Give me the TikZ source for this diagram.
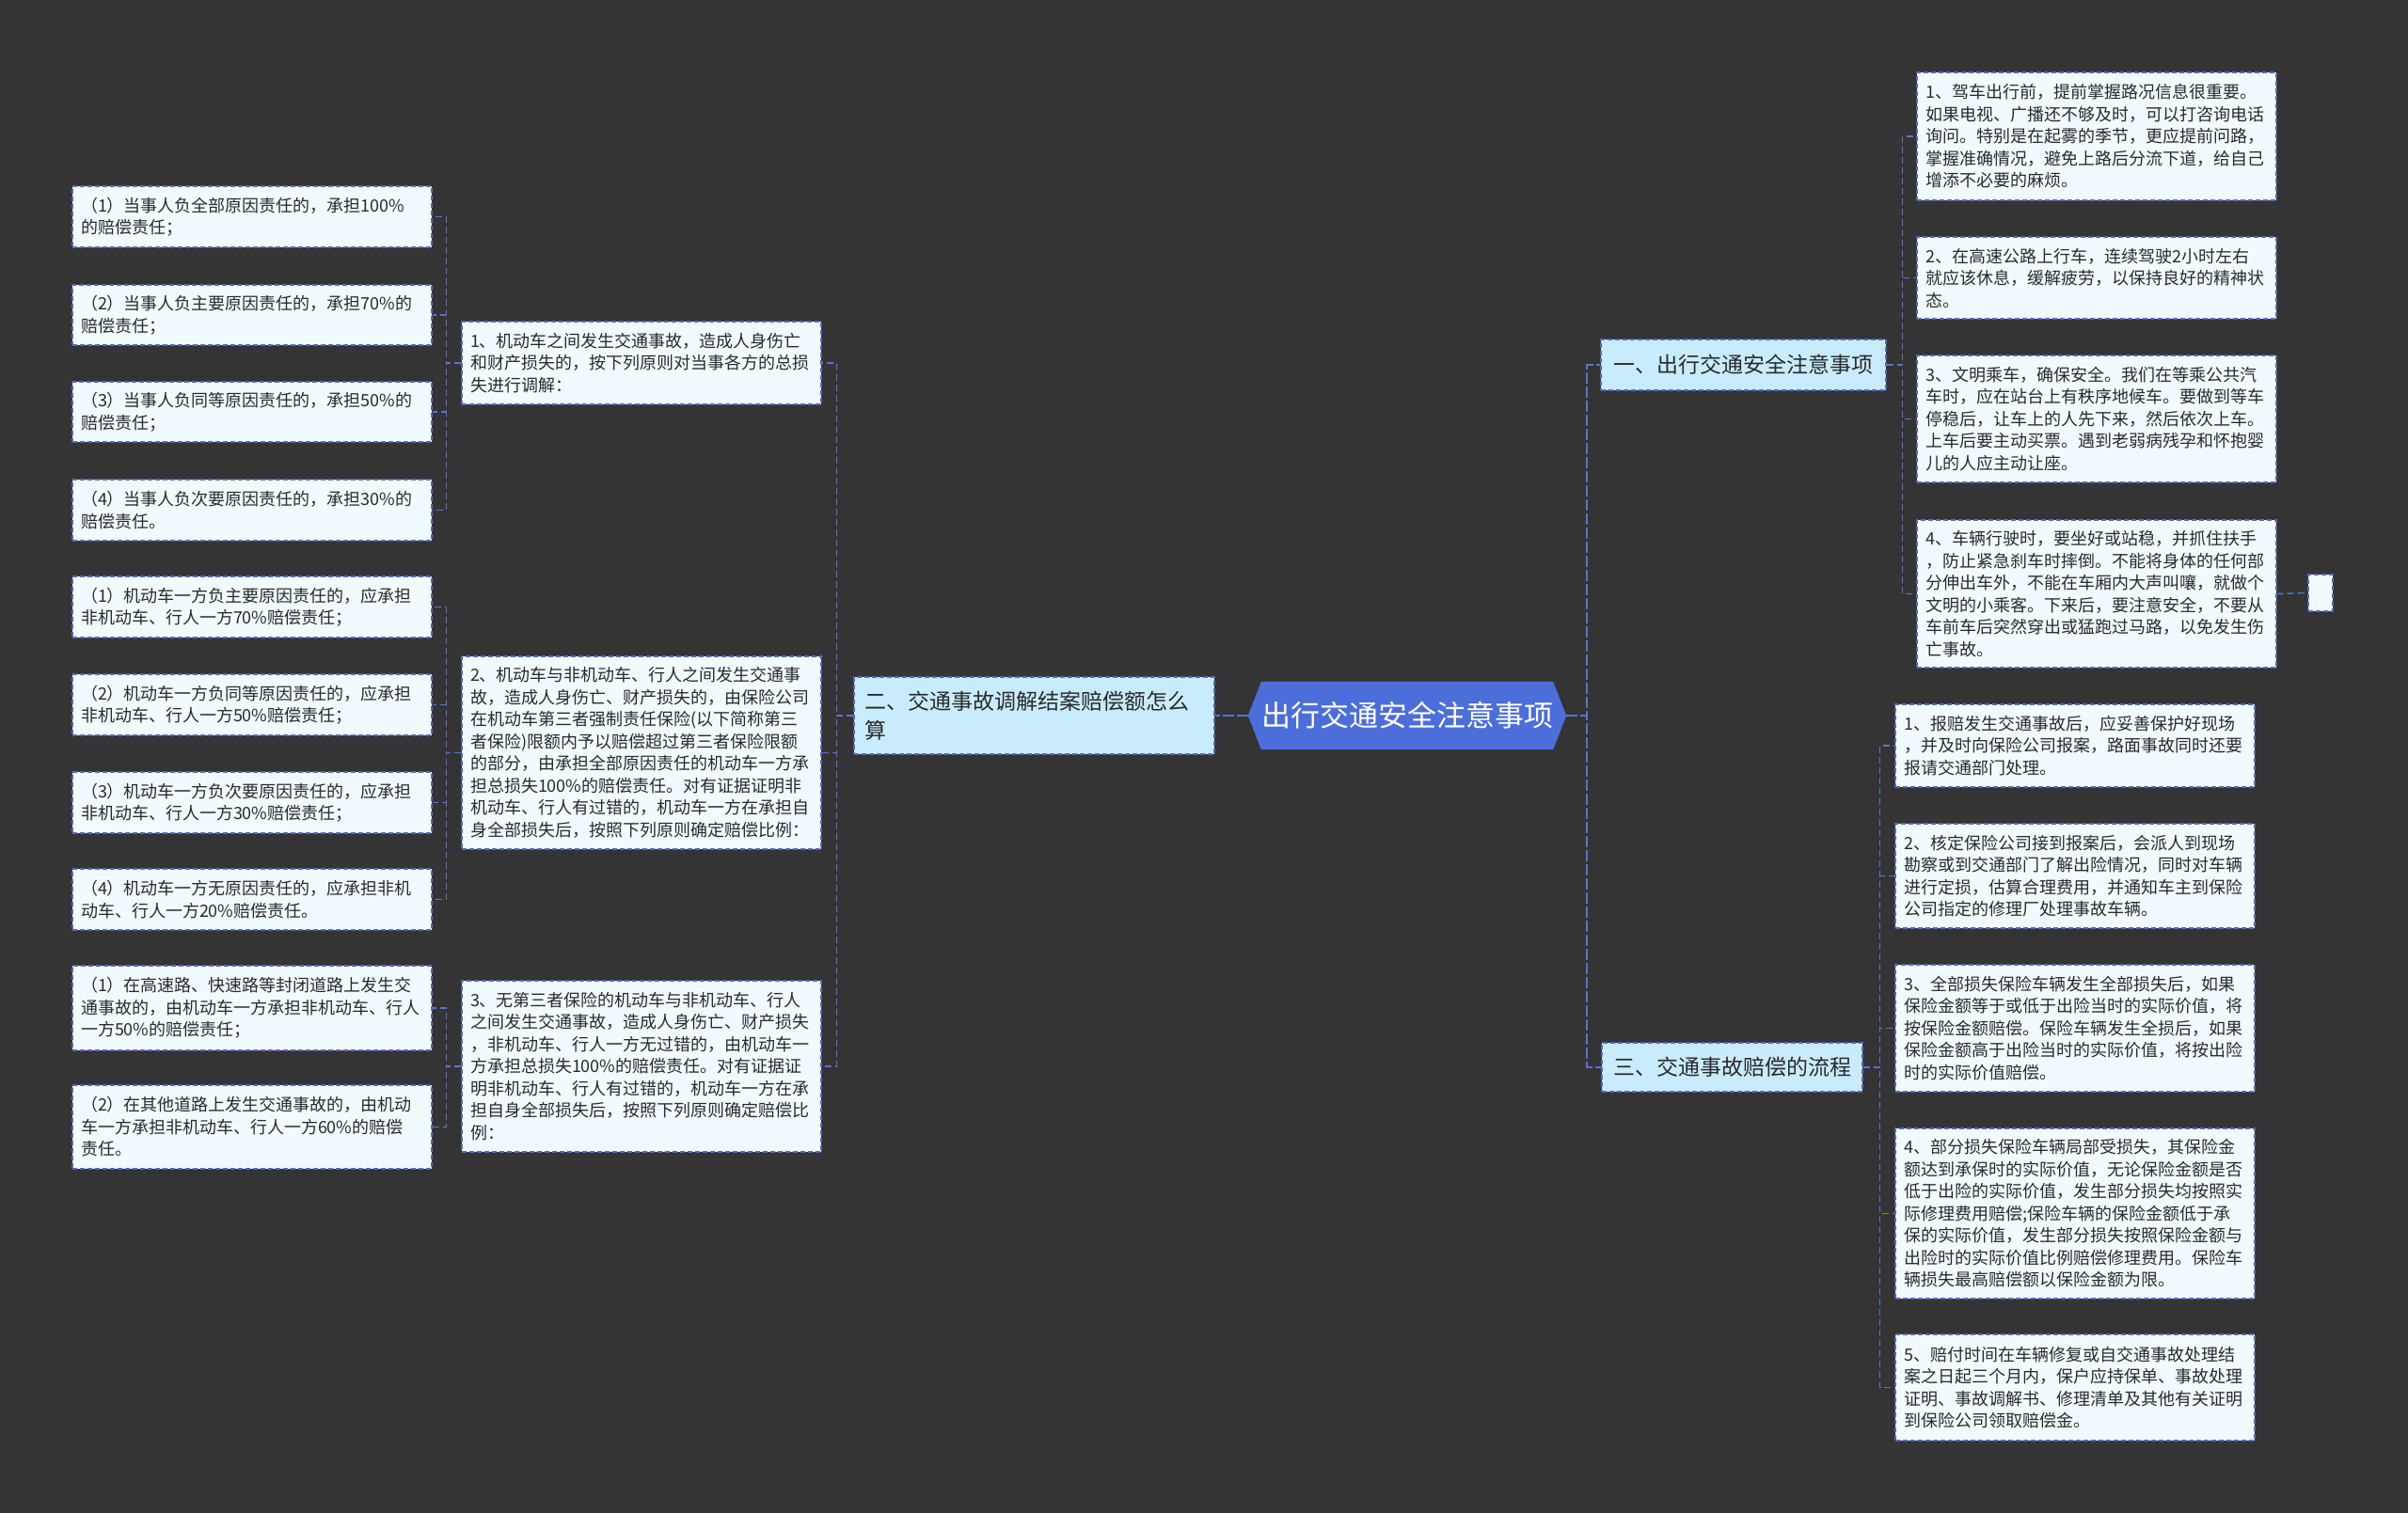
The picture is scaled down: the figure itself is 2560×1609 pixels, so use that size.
\documentclass[tikz,border=0pt]{standalone}
\usepackage{fontspec}
\setmainfont{Noto Sans CJK SC}
\usetikzlibrary{backgrounds}
\definecolor{bgc}{HTML}{343434}
\definecolor{leaffill}{HTML}{F1FAFE}
\definecolor{leafborder}{HTML}{5568C0}
\definecolor{branchfill}{HTML}{C8ECFC}
\definecolor{rootfill}{HTML}{4C6EDB}
\definecolor{connc}{HTML}{5A73D2}
\definecolor{textdark}{HTML}{2A2A2A}
\begin{document}
\begin{tikzpicture}[x=1pt,y=-1pt,
  leafbox/.style={draw=leafborder, fill=leaffill, line width=1.3pt, dash pattern=on 5pt off 3pt,
    text=textdark, inner xsep=9pt, inner ysep=0pt, align=left, text width=364pt,
    minimum width=382pt, minimum height=#1pt, font=\fontsize{18}{23.5}\selectfont},
  branchbox/.style={draw=leafborder, fill=branchfill, line width=1.3pt, dash pattern=on 5pt off 3pt,
    text=textdark, inner xsep=11pt, inner ysep=0pt, font=\fontsize{23}{31}\selectfont},
  smallbox/.style={draw=leafborder, fill=leaffill, line width=1.3pt, dash pattern=on 5pt off 3pt,
    minimum width=26pt, minimum height=39pt, inner sep=0pt},
  rootnode/.style={minimum width=338pt, minimum height=72pt, inner sep=0pt, text=white,
    font=\fontsize{31}{36}\selectfont},
  conn/.style={draw=connc, line width=1.4pt, dash pattern=on 7pt off 4pt},
  rootconn/.style={draw=connc, line width=2.4pt, dash pattern=on 12pt off 3pt}
]
\useasboundingbox (0,0) rectangle (2560,1609);

% root
\node[rootnode] (root) at (1496,761) {出行交通安全注意事项};

% branches
\node[branchbox, minimum width=303pt, minimum height=54pt] (b1) at (1853.5,388) {一、出行交通安全注意事项};
\node[branchbox, minimum width=383pt, minimum height=82pt, text width=361pt, align=left] (b2) at (1099.5,761) {二、交通事故调解结案赔偿额怎么\\算};
\node[branchbox, minimum width=277pt, minimum height=52pt] (b3) at (1841.5,1135) {三、交通事故赔偿的流程};

% middle column
\node[leafbox=88] (M1) at (682,386) {1、机动车之间发生交通事故，造成人身伤亡\\和财产损失的，按下列原则对当事各方的总损\\失进行调解：};
\node[leafbox=205] (M2) at (682,800.5) {2、机动车与非机动车、行人之间发生交通事\\故，造成人身伤亡、财产损失的，由保险公司\\在机动车第三者强制责任保险(以下简称第三\\者保险)限额内予以赔偿超过第三者保险限额\\的部分，由承担全部原因责任的机动车一方承\\担总损失100\%的赔偿责任。对有证据证明非\\机动车、行人有过错的，机动车一方在承担自\\身全部损失后，按照下列原则确定赔偿比例：};
\node[leafbox=182] (M3) at (682,1134) {3、无第三者保险的机动车与非机动车、行人\\之间发生交通事故，造成人身伤亡、财产损失\\，非机动车、行人一方无过错的，由机动车一\\方承担总损失100\%的赔偿责任。对有证据证\\明非机动车、行人有过错的，机动车一方在承\\担自身全部损失后，按照下列原则确定赔偿比\\例：};

% left column
\node[leafbox=65] (L1) at (268,230.5) {（1）当事人负全部原因责任的，承担100\%\\的赔偿责任；};
\node[leafbox=64] (L2) at (268,335) {（2）当事人负主要原因责任的，承担70\%的\\赔偿责任；};
\node[leafbox=64] (L3) at (268,438) {（3）当事人负同等原因责任的，承担50\%的\\赔偿责任；};
\node[leafbox=65] (L4) at (268,542.5) {（4）当事人负次要原因责任的，承担30\%的\\赔偿责任。};
\node[leafbox=65] (L5) at (268,645.5) {（1）机动车一方负主要原因责任的，应承担\\非机动车、行人一方70\%赔偿责任；};
\node[leafbox=65] (L6) at (268,749.5) {（2）机动车一方负同等原因责任的，应承担\\非机动车、行人一方50\%赔偿责任；};
\node[leafbox=65] (L7) at (268,853.5) {（3）机动车一方负次要原因责任的，应承担\\非机动车、行人一方30\%赔偿责任；};
\node[leafbox=65] (L8) at (268,956.5) {（4）机动车一方无原因责任的，应承担非机\\动车、行人一方20\%赔偿责任。};
\node[leafbox=90] (L9) at (268,1072) {（1）在高速路、快速路等封闭道路上发生交\\通事故的，由机动车一方承担非机动车、行人\\一方50\%的赔偿责任；};
\node[leafbox=89] (L10) at (268,1198.5) {（2）在其他道路上发生交通事故的，由机动\\车一方承担非机动车、行人一方60\%的赔偿\\责任。};

% right column (branch 1)
\node[leafbox=136] (R1) at (2229,145) {1、驾车出行前，提前掌握路况信息很重要。\\如果电视、广播还不够及时，可以打咨询电话\\询问。特别是在起雾的季节，更应提前问路，\\掌握准确情况，避免上路后分流下道，给自己\\增添不必要的麻烦。};
\node[leafbox=87] (R2) at (2229,295.5) {2、在高速公路上行车，连续驾驶2小时左右\\就应该休息，缓解疲劳，以保持良好的精神状\\态。};
\node[leafbox=135] (R3) at (2229,445.5) {3、文明乘车，确保安全。我们在等乘公共汽\\车时，应在站台上有秩序地候车。要做到等车\\停稳后，让车上的人先下来，然后依次上车。\\上车后要主动买票。遇到老弱病残孕和怀抱婴\\儿的人应主动让座。};
\node[leafbox=157] (R4) at (2229,631.5) {4、车辆行驶时，要坐好或站稳，并抓住扶手\\，防止紧急刹车时摔倒。不能将身体的任何部\\分伸出车外，不能在车厢内大声叫嚷，就做个\\文明的小乘客。下来后，要注意安全，不要从\\车前车后突然穿出或猛跑过马路，以免发生伤\\亡事故。};
\node[smallbox] (sm) at (2467,630.5) {};

% right column (branch 3)
\node[leafbox=88] (S1) at (2206,793) {1、报赔发生交通事故后，应妥善保护好现场\\，并及时向保险公司报案，路面事故同时还要\\报请交通部门处理。};
\node[leafbox=111] (S2) at (2206,931.5) {2、核定保险公司接到报案后，会派人到现场\\勘察或到交通部门了解出险情况，同时对车辆\\进行定损，估算合理费用，并通知车主到保险\\公司指定的修理厂处理事故车辆。};
\node[leafbox=135] (S3) at (2206,1093.5) {3、全部损失保险车辆发生全部损失后，如果\\保险金额等于或低于出险当时的实际价值，将\\按保险金额赔偿。保险车辆发生全损后，如果\\保险金额高于出险当时的实际价值，将按出险\\时的实际价值赔偿。};
\node[leafbox=181] (S4) at (2206,1290.5) {4、部分损失保险车辆局部受损失，其保险金\\额达到承保时的实际价值，无论保险金额是否\\低于出险的实际价值，发生部分损失均按照实\\际修理费用赔偿;保险车辆的保险金额低于承\\保的实际价值，发生部分损失按照保险金额与\\出险时的实际价值比例赔偿修理费用。保险车\\辆损失最高赔偿额以保险金额为限。};
\node[leafbox=113] (S5) at (2206,1475.5) {5、赔付时间在车辆修复或自交通事故处理结\\案之日起三个月内，保户应持保单、事故处理\\证明、事故调解书、修理清单及其他有关证明\\到保险公司领取赔偿金。};

\begin{pgfonlayer}{background}
\fill[bgc] (0,0) rectangle (2560,1609);
\fill[rootfill] ([xshift=14pt]root.north west) -- ([xshift=-14pt]root.north east) -- (root.east)
  -- ([xshift=-14pt]root.south east) -- ([xshift=14pt]root.south west) -- (root.west) -- cycle;
\end{pgfonlayer}

% connectors: root
\draw[rootconn] (root.west) -- (b2.east);
\draw[rootconn] (root.east) -- ++(22,0) |- (b1.west);
\draw[rootconn] (root.east) -- ++(22,0) |- (b3.west);

% branch 2 -> middle
\foreach \c in {M1,M2,M3} \draw[conn] (b2.west) -- ++(-18,0) |- (\c.east);
% middle -> left
\foreach \c in {L1,L2,L3,L4} \draw[conn] (M1.west) -- ++(-16,0) |- (\c.east);
\foreach \c in {L5,L6,L7,L8} \draw[conn] (M2.west) -- ++(-16,0) |- (\c.east);
\foreach \c in {L9,L10} \draw[conn] (M3.west) -- ++(-16,0) |- (\c.east);
% branch 1 -> right
\foreach \c in {R1,R2,R3,R4} \draw[conn] (b1.east) -- ++(17,0) |- (\c.west);
\draw[conn] (R4.east) -- (sm.west);
% branch 3 -> right
\foreach \c in {S1,S2,S3,S4,S5} \draw[conn] (b3.east) -- ++(18,0) |- (\c.west);
\end{tikzpicture}
\end{document}
